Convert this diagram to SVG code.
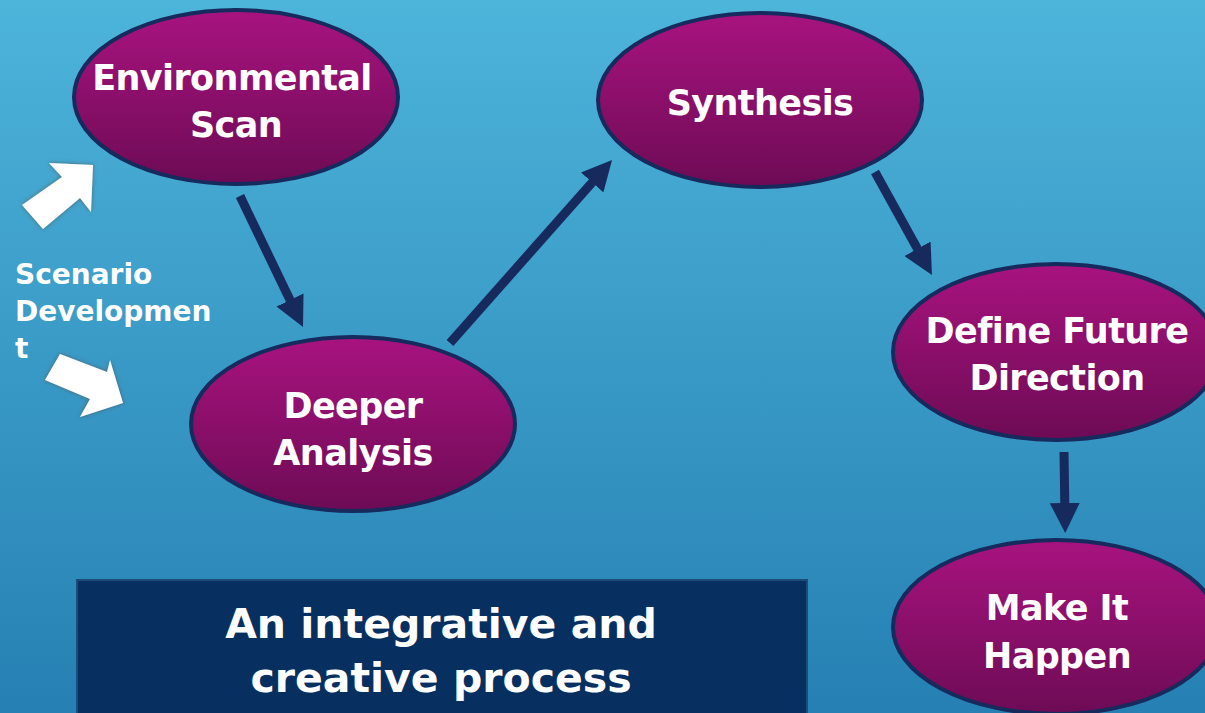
<svg xmlns="http://www.w3.org/2000/svg" width="1205" height="713" viewBox="0 0 1205 713">
  <defs>
    <linearGradient id="bg" x1="0" y1="0" x2="0" y2="1">
      <stop offset="0" stop-color="#4db4da"/>
      <stop offset="1" stop-color="#2680b3"/>
    </linearGradient>
    <linearGradient id="bubble" x1="0" y1="0" x2="0" y2="1">
      <stop offset="0" stop-color="#a8137f"/>
      <stop offset="1" stop-color="#6d0b55"/>
    </linearGradient>
    <filter id="shadow" x="-30%" y="-30%" width="160%" height="160%">
      <feDropShadow dx="0" dy="0" stdDeviation="2" flood-color="#555" flood-opacity="0.8"/>
    </filter>
    <marker id="head" markerUnits="userSpaceOnUse" markerWidth="30" markerHeight="30" refX="15" refY="15" orient="auto">
      <path d="M0,0 L30,15 L0,30 Z" fill="#172a5e"/>
    </marker>
  </defs>
  <style>
    .node ellipse { fill: url(#bubble); stroke: #172a5e; stroke-width: 4; }
    .node text { fill: #ffffff; font-family: "DejaVu Sans", "Liberation Sans", sans-serif; font-weight: bold; font-size: 35px; letter-spacing: -0.6px; text-anchor: middle; }
    .conn line { stroke: #172a5e; stroke-width: 9; marker-end: url(#head); }
    .side { fill: #ffffff; filter: url(#shadow); }
    .label { fill: #ffffff; font-family: "DejaVu Sans", "Liberation Sans", sans-serif; font-weight: bold; font-size: 28px; }
    .caption { fill: #ffffff; font-family: "DejaVu Sans", "Liberation Sans", sans-serif; font-weight: bold; font-size: 41px; text-anchor: middle; }
  </style>

  <rect x="0" y="0" width="1205" height="713" fill="url(#bg)"/>

  <!-- connectors between the stages -->
  <g id="connectors" class="conn">
    <line x1="240" y1="196" x2="296.5" y2="313.5"/>
    <line x1="450" y1="343" x2="602.1" y2="171.2"/>
    <line x1="875" y1="172" x2="924.7" y2="261.9"/>
    <line x1="1064" y1="452" x2="1065" y2="518"/>
  </g>

  <!-- stages -->
  <g id="environmental-scan" class="node">
    <ellipse cx="236" cy="97" rx="162" ry="87"/>
    <text x="232" y="90">Environmental</text>
    <text x="236" y="137">Scan</text>
  </g>
  <g id="synthesis" class="node">
    <ellipse cx="760" cy="100" rx="162" ry="87"/>
    <text x="760" y="115">Synthesis</text>
  </g>
  <g id="deeper-analysis" class="node">
    <ellipse cx="353" cy="424" rx="162" ry="87"/>
    <text x="353" y="418">Deeper</text>
    <text x="353" y="465">Analysis</text>
  </g>
  <g id="define-future-direction" class="node">
    <ellipse cx="1056" cy="352" rx="163" ry="88"/>
    <text x="1057" y="343">Define Future</text>
    <text x="1057" y="390">Direction</text>
  </g>
  <g id="make-it-happen" class="node">
    <ellipse cx="1056" cy="627" rx="163" ry="87"/>
    <text x="1057" y="620">Make It</text>
    <text x="1057" y="668">Happen</text>
  </g>

  <!-- scenario development side note with its two white arrows -->
  <g id="scenario-development">
    <polygon class="side" points="22,205 62,177 49,163 93,165 91,212 80,198 43,229"/>
    <polygon class="side" points="45,380 60,354 107,372 110,360 123,403 80,417 90,399"/>
    <text class="label" x="15" y="284">Scenario</text>
    <text class="label" x="15" y="321">Developmen</text>
    <text class="label" x="15" y="358">t</text>
  </g>

  <!-- caption box -->
  <g id="caption">
    <rect x="77" y="580" width="730" height="140" fill="#072f5f" stroke="#1b4d78" stroke-width="2"/>
    <text class="caption" x="441" y="638">An integrative and</text>
    <text class="caption" x="441" y="692">creative process</text>
  </g>
</svg>
